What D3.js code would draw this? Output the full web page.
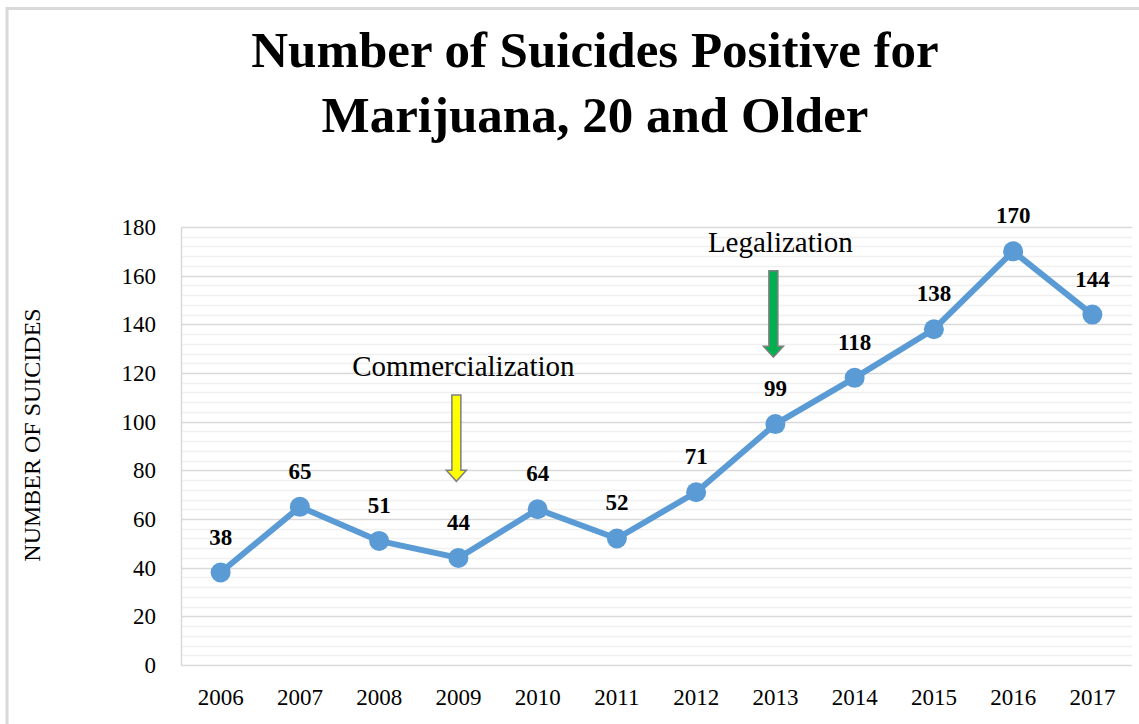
<!DOCTYPE html>
<html>
<head>
<meta charset="utf-8">
<script src="https://cdn.jsdelivr.net/npm/d3@7"></script>
<style>
  body { margin: 0; background: #fff; }
  svg { display: block; }
</style>
</head>
<body>
<div id="chart"></div>
<script>
// dados do gráfico
const anos = ["2006", "2007", "2008", "2009", "2010", "2011", "2012", "2013", "2014", "2015", "2016", "2017"];
const suicidios = [38, 65, 51, 44, 64, 52, 71, 99, 118, 138, 170, 144];
const yTicks = [0, 20, 40, 60, 80, 100, 120, 140, 160, 180];
const tituloLinhas = ["Number of Suicides Positive for", "Marijuana, 20 and Older"];
const eixoYTitulo = "NUMBER OF SUICIDES";
// setas de anotação: ano, valor do topo, valor da ponta
const anotacoes = [
    { ano: "2009", texto: "Commercialization", topo: 111, ponta: 75.5, cor: "#ffff00" },
    { ano: "2013", texto: "Legalization", topo: 162, ponta: 126.5, cor: "#00b050" }
];

const width = 1139;
const height = 724;
const marginTop = 227;
const marginRight = 7;
const marginBottom = 59;
const marginLeft = 181;

const svg = d3.select("#chart")
    .append("svg")
    .attr("width", width)
    .attr("height", height);

// moldura do gráfico
svg.append("rect")
    .attr("x", 7).attr("y", 8.5)
    .attr("width", 1300).attr("height", 900)
    .attr("fill", "#fff")
    .attr("stroke", "#d9d9d9")
    .attr("stroke-width", 3);

// escalas
const x = d3.scaleBand().domain(anos).range([marginLeft, width - marginRight]);
const y = d3.scaleLinear().domain([0, 180]).range([height - marginBottom, marginTop]);
const cx = d => x(d) + x.bandwidth() / 2;

// linhas de grade menores (a cada 4)
svg.append("g")
    .selectAll("line")
    .data(d3.range(4, 180, 4).filter(v => v % 20 !== 0))
    .join("line")
    .attr("x1", marginLeft).attr("x2", width - marginRight)
    .attr("y1", d => Math.round(y(d)) + 0.5).attr("y2", d => Math.round(y(d)) + 0.5)
    .attr("stroke", "#f0f0f0")
    .attr("stroke-width", 1.5);

// linhas de grade principais
svg.append("g")
    .selectAll("line")
    .data(yTicks)
    .join("line")
    .attr("x1", marginLeft).attr("x2", width - marginRight)
    .attr("y1", d => Math.round(y(d)) + 0.5).attr("y2", d => Math.round(y(d)) + 0.5)
    .attr("stroke", "#d9d9d9")
    .attr("stroke-width", 1.5);

// eixo vertical
svg.append("line")
    .attr("x1", marginLeft + 0.5).attr("x2", marginLeft + 0.5)
    .attr("y1", y(180)).attr("y2", y(0))
    .attr("stroke", "#d9d9d9")
    .attr("stroke-width", 1.5);

// rótulos do eixo Y
const eixoY = svg.append("g")
    .attr("transform", `translate(${marginLeft},0)`)
    .call(d3.axisLeft(y).tickValues(yTicks).tickSize(0).tickPadding(25));
eixoY.select(".domain").remove();
eixoY.selectAll("text")
    .attr("font-family", "'Liberation Serif', serif")
    .attr("font-size", 23)
    .attr("fill", "#000");

// rótulos do eixo X
const eixoX = svg.append("g")
    .attr("transform", `translate(0,${height - marginBottom})`)
    .call(d3.axisBottom(x).tickSize(0).tickPadding(24));
eixoX.select(".domain").remove();
eixoX.selectAll("text")
    .attr("font-family", "'Liberation Serif', serif")
    .attr("font-size", 23)
    .attr("fill", "#000");

// título do eixo Y
svg.append("text")
    .attr("transform", `translate(40,435) rotate(-90)`)
    .attr("text-anchor", "middle")
    .attr("font-family", "'Liberation Serif', serif")
    .attr("font-size", 24)
    .text(eixoYTitulo);

// título
svg.append("text")
    .attr("text-anchor", "middle")
    .attr("font-family", "'Liberation Serif', serif")
    .attr("font-weight", "bold")
    .attr("font-size", 51)
    .selectAll("tspan")
    .data(tituloLinhas)
    .join("tspan")
    .attr("x", 595)
    .attr("y", (d, i) => 67 + i * 65)
    .text(d => d);

// setas de anotação
anotacoes.forEach(a => {
    const xc = cx(a.ano) - 2;
    const yTopo = y(a.topo);
    const yPonta = y(a.ponta);
    const corpo = 4.5;
    const cabeca = 10;
    const alturaCabeca = 11;
    const pts = [
        [xc - corpo, yTopo], [xc + corpo, yTopo],
        [xc + corpo, yPonta - alturaCabeca], [xc + cabeca, yPonta - alturaCabeca],
        [xc, yPonta],
        [xc - cabeca, yPonta - alturaCabeca], [xc - corpo, yPonta - alturaCabeca]
    ];
    svg.append("path")
        .attr("d", d3.line()(pts) + "Z")
        .attr("fill", a.cor)
        .attr("stroke", "#7f7f7f")
        .attr("stroke-width", 1.5);
    svg.append("text")
        .attr("x", xc + 7)
        .attr("y", yTopo - 19)
        .attr("text-anchor", "middle")
        .attr("font-family", "'Liberation Serif', serif")
        .attr("font-size", 29)
        .text(a.texto);
});

// linha da série
const linha = d3.line()
    .x((d, i) => cx(anos[i]))
    .y(d => y(d));

svg.append("path")
    .datum(suicidios)
    .attr("fill", "none")
    .attr("stroke", "#5b9bd5")
    .attr("stroke-width", 6)
    .attr("stroke-linejoin", "round")
    .attr("d", linha);

// marcadores
svg.selectAll(".ponto")
    .data(suicidios)
    .join("circle")
    .attr("cx", (d, i) => cx(anos[i]))
    .attr("cy", d => y(d))
    .attr("r", 10)
    .attr("fill", "#5b9bd5");

// rótulos de dados
svg.selectAll(".rotulo")
    .data(suicidios)
    .join("text")
    .attr("x", (d, i) => cx(anos[i]))
    .attr("y", d => y(d) - 28)
    .attr("text-anchor", "middle")
    .attr("font-family", "'Liberation Serif', serif")
    .attr("font-weight", "bold")
    .attr("font-size", 23)
    .text(d => d);
</script>
</body>
</html>
